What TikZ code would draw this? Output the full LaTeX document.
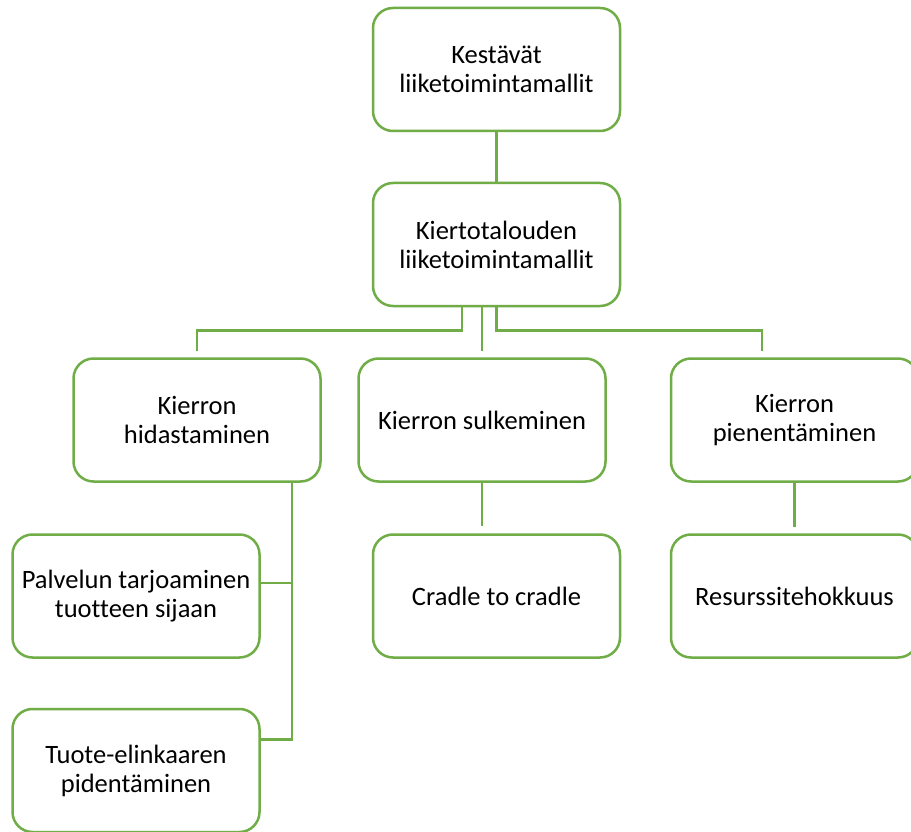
\documentclass[tikz,border=0pt]{standalone}
\usepackage{fontspec}
\setmainfont{Carlito}[Ligatures=NoCommon]
\definecolor{leafgreen}{HTML}{70AD47}
\begin{document}
\begin{tikzpicture}[x=1pt,y=-1pt,
  box/.style={rectangle, draw=leafgreen, line width=2.5pt, rounded corners=20pt, fill=white,
    minimum width=247pt, minimum height=123pt, align=center, font=\fontsize{26.5}{29}\selectfont},
  link/.style={draw=leafgreen, line width=2.5pt}]
\useasboundingbox (0,0) rectangle (911,832);
\fill[white] (0,0) rectangle (911,832);
\node[box] (top) at (496.5,69.5){Kestävät\\liiketoimintamallit};
\node[box] (circ) at (496.5,244.5){Kiertotalouden\\liiketoimintamallit};
\node[box] (slow) at (197,420){Kierron\\hidastaminen};
\node[box] (close) at (482,420){Kierron sulkeminen};
\node[box] (small) at (794.5,420){Kierron\\pienentäminen};
\node[box] (palv) at (136,596){Palvelun tarjoaminen\\tuotteen sijaan};
\node[box] (cradle) at (496.5,596){Cradle to cradle};
\node[box] (resurs) at (794.5,596){Resurssitehokkuus};
\node[box] (tuote) at (136,770.5){Tuote-elinkaaren\\pidentäminen};
\draw[link](top) -- (circ);
\draw[link]([xshift=-34.5pt]circ.south) -- ++(0,23) -| ([yshift=6pt]slow.north);
\draw[link]([xshift=-14.5pt]circ.south) -- ([yshift=6pt]close.north);
\draw[link](circ.south) -- ++(0,23) -| ([xshift=-32.5pt,yshift=6pt]small.north);
\draw[link]([xshift=95pt]slow.south) |- ([yshift=31pt]tuote.east);
\draw[link]([yshift=13pt]palv.east) -- ++(32,0);
\draw[link](close.south) -- ([yshift=7pt]close.south |- cradle.north);
\draw[link](small.south) -- ([yshift=6pt]resurs.north);

\end{tikzpicture}
\end{document}
